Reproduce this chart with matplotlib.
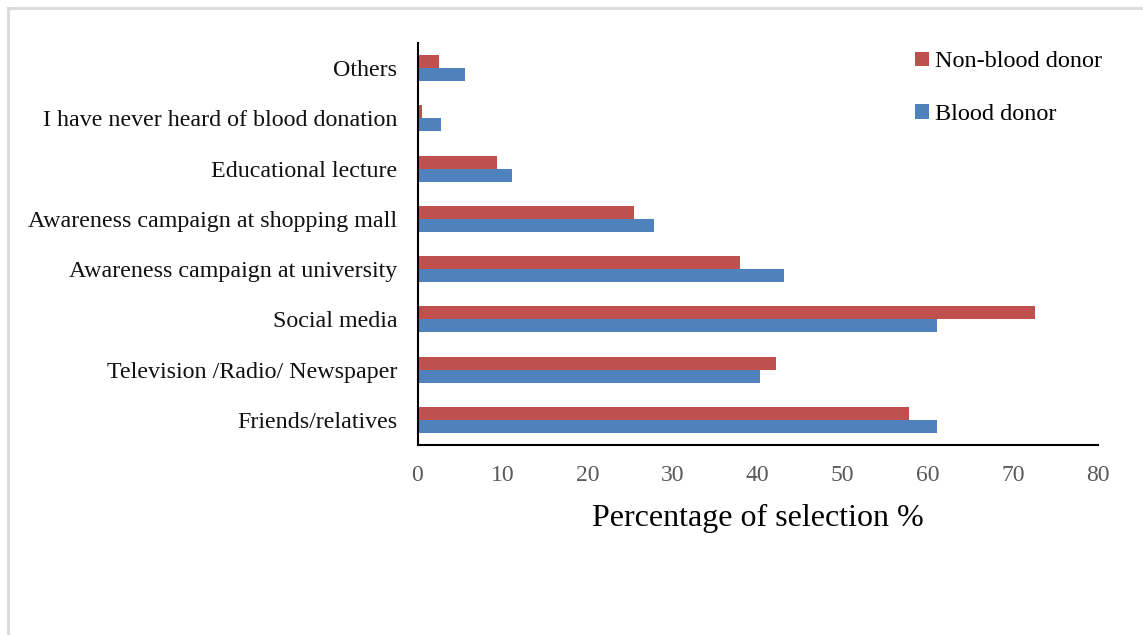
import matplotlib
matplotlib.use("Agg")
import matplotlib.pyplot as plt
import numpy as np
from matplotlib.lines import Line2D

categories = [
    "Friends/relatives",
    "Television /Radio/ Newspaper",
    "Social media",
    "Awareness campaign at university",
    "Awareness campaign at shopping mall",
    "Educational lecture",
    "I have never heard of blood donation",
    "Others",
]
non_donor = [57.8, 42.1, 72.6, 37.9, 25.4, 9.3, 0.5, 2.5]
donor = [61.1, 40.3, 61.1, 43.1, 27.8, 11.1, 2.8, 5.6]
xticks = [0, 10, 20, 30, 40, 50, 60, 70, 80]

RED = "#c0504d"
BLUE = "#4f81bd"

plt.rcParams["font.family"] = ["Liberation Serif", "DejaVu Serif"]

W, H = 1143, 635
fig = plt.figure(figsize=(W / 100, H / 100), dpi=100)
ax = fig.add_axes([417.5 / W, 1 - 445 / H, (1098 - 417.5) / W, (445 - 43) / H])

y = np.arange(len(categories))
h = 0.26
ax.barh(y + h / 2, non_donor, height=h, color=RED, label="Non-blood donor")
ax.barh(y - h / 2, donor, height=h, color=BLUE, label="Blood donor")

ax.set_xlim(0, 80)
ax.set_ylim(-0.5, len(categories) - 0.5)
ax.set_xticks(xticks)
ax.set_yticks(y)
ax.set_yticklabels(categories, fontsize=17.3, color="#111111")
ax.tick_params(axis="x", length=0, labelsize=17, labelcolor="#595959", pad=14.5)
ax.tick_params(axis="y", length=0, pad=14.5)
for side in ("top", "right"):
    ax.spines[side].set_visible(False)
for side in ("left", "bottom"):
    ax.spines[side].set_linewidth(1.5)
    ax.spines[side].set_color("black")
ax.set_xlabel("Percentage of selection %", fontsize=23, labelpad=13)

handles, labels = ax.get_legend_handles_labels()
ax.legend(handles, labels, loc="upper left",
          bbox_to_anchor=(896 / W, 1 - 32 / H), bbox_transform=fig.transFigure,
          frameon=False, fontsize=17.5, handlelength=0.55, handleheight=0.55,
          handletextpad=0.25, labelspacing=1.3, borderpad=0.3)

# light frame along the top and left edges
fig.add_artist(Line2D([8 / W, 1], [1 - 8 / H, 1 - 8 / H],
                      transform=fig.transFigure, color="#d9d9d9", lw=2))
fig.add_artist(Line2D([8 / W, 8 / W], [0, 1 - 8 / H],
                      transform=fig.transFigure, color="#d9d9d9", lw=2))

fig.savefig("out.png", dpi=100)
